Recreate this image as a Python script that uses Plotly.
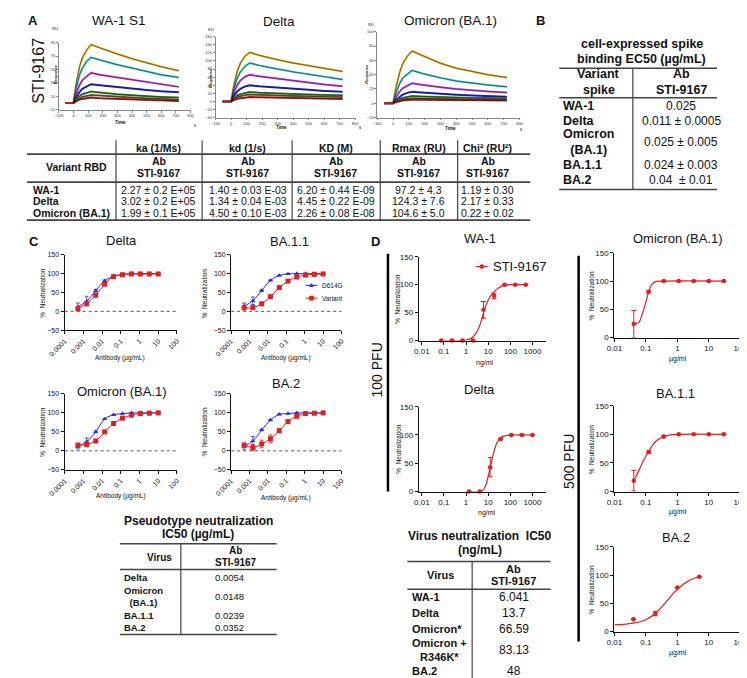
import plotly.graph_objects as go

# ======================= DATA =======================
# --- Panel A: SPR sensorgrams (Response, RU vs Time, s) ---
SENSOR_T = [-55, 0, 10, 20, 40, 60, 90, 120, 180, 240, 300, 400, 500, 600, 720]
SENSOR_COLORS = ["#e8b01c", "#38c9cf", "#d83fd8", "#2424e0", "#2f8d33", "#707040", "#c01c1c"]
WA1_S1_RU = [
    [0, 0, 18, 32, 53, 67, 79, 87, 82, 77, 73, 66, 60, 54, 48],
    [0, 0, 13, 24, 41, 52, 62, 68, 64, 60, 57, 52, 47, 42, 38],
    [0, 0, 8, 15, 26, 34, 40, 45, 42, 40, 37, 34, 31, 28, 24],
    [0, 0, 5, 9, 16, 21, 25, 28, 26.5, 25, 23.5, 21.5, 19.5, 17.5, 16],
    [0, 0, 3, 6, 10, 13, 15, 17, 15.5, 14, 13, 11.5, 10, 9, 8],
    [0, 0, 2, 4, 7, 9, 11, 12, 11, 10, 9, 8, 7, 6, 5],
    [0, 0, 1.5, 3, 5, 6, 7, 8, 7, 6.5, 6, 5, 4.5, 4, 3],
]
DELTA_RU = [
    [0, 0, 25, 45, 75, 95, 112, 121, 114, 108, 103, 95, 88, 81, 74],
    [0, 0, 19, 35, 58, 73, 87, 95, 89, 84, 80, 73, 67, 61, 54],
    [0, 0, 13, 25, 41, 52, 61, 66, 62, 59, 56, 51, 47, 42, 37.5],
    [0, 0, 8, 15, 25, 31, 37, 40, 37.5, 35.5, 33.5, 31, 28.5, 26, 24],
    [0, 0, 5, 9, 15, 18, 21, 23, 21.5, 20.5, 19.5, 18, 17, 16, 15],
    [0, 0, 3.5, 7, 11, 13.5, 15.5, 17, 16, 15, 14.5, 13.5, 12.5, 11.5, 10.6],
    [0, 0, 2, 4, 6.5, 8, 9.5, 10.6, 10, 9.5, 9, 8, 7.5, 7, 6],
]
OMICRON_RU = [
    [0, 0, 14, 24, 42, 55, 66, 73, 67, 61, 56, 49, 44, 40, 36],
    [0, 0, 9, 15, 27, 35, 41, 46, 42, 38.5, 35.5, 31, 28, 25.5, 23],
    [0, 0, 5, 9, 16, 21, 25, 28, 26, 24, 22.5, 20, 18, 16.5, 15],
    [0, 0, 3, 5, 9, 12, 14.5, 16, 15, 14, 13, 12, 11, 10, 9],
    [0, 0, 2, 3.5, 6, 7.5, 9, 10, 9.5, 9, 8.5, 8, 7.5, 7.2, 7],
    [0, 0, 1.3, 2.5, 4, 5.3, 6.3, 7, 6.7, 6.4, 6, 5.7, 5.4, 5.2, 5],
    [0, 0, 1, 1.7, 3, 3.8, 4.5, 5, 4.8, 4.6, 4.4, 4.2, 4, 3.8, 3.7],
]

# --- Panel A table ---
TA_HEADERS = ["ka (1/Ms)", "kd (1/s)", "KD (M)", "Rmax (RU)", "Chi² (RU²)"]
TA_VARIANTS = ["WA-1", "Delta", "Omicron (BA.1)"]
TA_KA = ["2.27 ± 0.2 E+05", "3.02 ± 0.2 E+05", "1.99 ± 0.1 E+05"]
TA_KD = ["1.40 ± 0.03 E-03", "1.34 ± 0.04 E-03", "4.50 ± 0.10 E-03"]
TA_KDM = ["6.20 ± 0.44 E-09", "4.45 ± 0.22 E-09", "2.26 ± 0.08 E-08"]
TA_RMAX = ["97.2 ± 4.3", "124.3 ± 7.6", "104.6 ± 5.0"]
TA_CHI2 = ["1.19 ± 0.30", "2.17 ± 0.33", "0.22 ± 0.02"]

# --- Panel B table ---
TB_SPIKES = ["WA-1", "Delta", "Omicron<br>(BA.1)", "BA.1.1", "BA.2"]
TB_EC50 = ["0.025", "0.011 ± 0.0005", "0.025 ± 0.005", "0.024 ± 0.003", "0.04  ± 0.01"]

# --- Panel C: pseudotype neutralization ---
C_CONC = [0.000508, 0.00152, 0.00457, 0.0137, 0.0412, 0.123, 0.370, 1.11, 3.33, 10.0]
C_DELTA_D614G = [12, 27, 55, 81, 93, 98, 100, 100, 100, 100]
C_DELTA_D614G_ERR = [10, 13, 3, 2, 1, 0, 0, 0, 0, 0]
C_DELTA_VAR = [7, 21, 43, 72, 92, 97, 99, 99, 99, 99]
C_DELTA_VAR_ERR = [4, 3, 5, 4, 2, 1, 0, 0, 0, 0]
C_BA11_D614G = [14, 28, 55, 82, 95, 99, 100, 100, 100, 100]
C_BA11_D614G_ERR = [8, 10, 2, 1, 1, 0, 0, 0, 0, 0]
C_BA11_VAR = [9, 10, 20, 39, 63, 80, 91, 96, 98, 99]
C_BA11_VAR_ERR = [4, 3, 2, 2, 3, 3, 2, 1, 1, 1]
C_OMI_D614G = [11, 24, 50, 84, 95, 98, 100, 100, 100, 100]
C_OMI_D614G_ERR = [6, 10, 2, 1, 1, 0, 0, 0, 0, 0]
C_OMI_VAR = [15, 17, 26, 50, 72, 86, 94, 98, 99, 100]
C_OMI_VAR_ERR = [5, 6, 3, 3, 2, 2, 1, 1, 1, 1]
C_BA2_D614G = [12, 26, 55, 81, 96, 98, 100, 100, 100, 100]
C_BA2_D614G_ERR = [8, 12, 2, 1, 1, 0, 0, 0, 0, 0]
C_BA2_VAR = [15, 9, 18, 32, 53, 77, 91, 98, 99, 100]
C_BA2_VAR_ERR = [5, 8, 10, 10, 4, 5, 3, 2, 1, 1]
C_TICKS = [0.0001, 0.001, 0.01, 0.1, 1, 10, 100]
C_TICKTEXT = ["0.0001", "0.001", "0.01", "0.1", "1", "10", "100"]
C_SERIES = ["D614G", "Variant"]

# --- Pseudotype table ---
TC_VIRUS = ["Delta", "Omicron<br>(BA.1)", "BA.1.1", "BA.2"]
TC_IC50 = ["0.0054", "0.0148", "0.0239", "0.0352"]

# --- Panel D: live virus neutralization ---
D_WA1_CONC = [0.0762, 0.229, 0.686, 2.06, 6.17, 18.5, 55.6, 166.7, 500]
D_WA1_NEUT = [0, 0, 0, 0, 55, 80, 100, 100, 100]
D_WA1_ERR = [0, 0, 0, 0, 15, 5, 0, 0, 0]
D_WA1_FIT_X = [0.0762, 0.7, 1, 1.5, 2, 3, 4, 5, 6, 8, 10, 14, 18.5, 25, 40, 60, 100, 500]
D_WA1_FIT_Y = [0, 0, 1, 3, 6, 15, 25, 37, 48, 63, 72, 82, 87, 92, 97, 99, 100, 100]
D_DELTA_CONC = [1.37, 4.12, 12.3, 37.0, 111, 333, 1000]
D_DELTA_NEUT = [0, 0, 43, 93, 100, 100, 100]
D_DELTA_ERR = [0, 0, 17, 1, 0, 0, 0]
D_DELTA_FIT_X = [1.37, 4, 6, 8, 10, 12, 14, 17, 20, 25, 37, 50, 111, 1000]
D_DELTA_FIT_Y = [0, 0, 3, 12, 27, 40, 52, 66, 76, 86, 95, 98, 100, 100]
D_OMI_CONC = [0.0412, 0.123, 0.370, 1.11, 3.33, 10, 30]
D_OMI_NEUT = [24, 81, 100, 100, 100, 100, 100]
D_OMI_ERR = [24, 2, 0, 0, 0, 0, 0]
D_OMI_FIT_X = [0.0412, 0.05, 0.06, 0.067, 0.075, 0.085, 0.1, 0.123, 0.15, 0.2, 0.37, 30]
D_OMI_FIT_Y = [24, 25, 27, 32, 40, 49, 63, 81, 93, 99, 100, 100]
D_BA11_CONC = [0.0412, 0.123, 0.370, 1.11, 3.33, 10, 30]
D_BA11_NEUT = [19, 69, 96, 100, 100, 100, 100]
D_BA11_ERR = [18, 2, 2, 0, 0, 0, 0]
D_BA11_FIT_X = [0.0412, 0.05, 0.06, 0.08, 0.1, 0.123, 0.15, 0.2, 0.3, 0.37, 0.6, 1, 30]
D_BA11_FIT_Y = [19, 28, 37, 52, 62, 70, 78, 87, 94, 96, 99, 100, 100]
D_BA2_CONC = [0.04, 0.2, 1, 5]
D_BA2_NEUT = [22, 32, 78, 97]
D_BA2_ERR = [0, 4, 0, 0]
D_BA2_FIT_X = [0.01, 0.02, 0.04, 0.07, 0.1, 0.2, 0.3, 0.5, 0.7, 1, 1.5, 2, 3, 5]
D_BA2_FIT_Y = [12, 13, 15, 18, 21, 32, 42, 56, 66, 75, 83, 88, 93, 97]
D_SERIES = "STI-9167"

# --- Virus neutralization table ---
TD_VIRUS = ["WA-1", "Delta", "Omicron*", "Omicron +<br>R346K*", "BA.2"]
TD_IC50 = ["6.041", "13.7", "66.59", "83.13", "48"]

# ======================= FIGURE =======================
W, H = 747, 678
FONT = "Liberation Sans, Arial, sans-serif"
RED = "#e0201e"
BLUE = "#2a2ae8"


def px(x):
    return x / W


def py(y):
    return 1 - y / H


fig = go.Figure()
axes = {}
ann = []
shp = []


def sfx(n):
    return "" if n == 1 else str(n)


def add_axes(n, xd, yd, xa, ya):
    axes["xaxis" + sfx(n)] = dict(domain=[px(xd[0]), px(xd[1])], anchor="y" + sfx(n), **xa)
    axes["yaxis" + sfx(n)] = dict(domain=[py(yd[1]), py(yd[0])], anchor="x" + sfx(n), **ya)


def text(x, y, s, size=11, bold=False, xanchor="center", angle=0, color="#111"):
    ann.append(dict(x=px(x), y=py(y), xref="paper", yref="paper", text=("<b>%s</b>" % s) if bold else s,
                    showarrow=False, xanchor=xanchor, yanchor="middle", textangle=angle,
                    font=dict(family=FONT, size=size, color=color)))


def hline(x0, x1, y, w=1.5, color="#444"):
    shp.append(dict(type="line", xref="paper", yref="paper", x0=px(x0), x1=px(x1), y0=py(y), y1=py(y),
                    line=dict(color=color, width=w)))


def vline(x, y0, y1, w=1.5, color="#444"):
    shp.append(dict(type="line", xref="paper", yref="paper", x0=px(x), x1=px(x), y0=py(y0), y1=py(y1),
                    line=dict(color=color, width=w)))


def legend_sample(x0, x1, y, color, symbol, label, size):
    # line segment + marker glyph + label (manual legend key)
    hline(x0, x1, y, 1.1, color)
    cx = (x0 + x1) / 2
    if symbol == "triangle":
        path = "M %f,%f L %f,%f L %f,%f Z" % (px(cx - 2.3), py(y + 1.8), px(cx + 2.3), py(y + 1.8), px(cx), py(y - 2.4))
        shp.append(dict(type="path", xref="paper", yref="paper", path=path, fillcolor=color, line=dict(width=0)))
    elif symbol == "square":
        shp.append(dict(type="rect", xref="paper", yref="paper", x0=px(cx - 2.4), x1=px(cx + 2.4),
                        y0=py(y + 2.4), y1=py(y - 2.4), fillcolor=color, line=dict(width=0)))
    else:
        shp.append(dict(type="circle", xref="paper", yref="paper", x0=px(cx - 2.3), x1=px(cx + 2.3),
                        y0=py(y + 2.3), y1=py(y - 2.3), fillcolor=color, line=dict(width=0)))
    text(x1 + 3, y, label, size, False, "left")


# ---------- Panel A: sensorgrams ----------
def sensor_axes(n, xd, yd, yr, ytv):
    common = dict(tickmode="array", tickfont=dict(family=FONT, size=4, color="#333"), showline=True,
                  linecolor="#888", linewidth=0.7, ticks="outside", ticklen=2, tickwidth=0.5,
                  tickcolor="#888", showgrid=False, zeroline=False)
    xa = dict(range=[-100, 800], tickvals=list(range(-100, 801, 100)), **common)
    ya = dict(range=yr, tickvals=ytv, **common)
    add_axes(n, xd, yd, xa, ya)


sensor_sets = [
    (1, WA1_S1_RU, (35, 171), (31, 99), [-10, 90], list(range(-10, 91, 20))),
    (2, DELTA_RU, (197, 341), (25, 107), [-40, 160], list(range(-40, 161, 20))),
    (3, OMICRON_RU, (364, 511), (20, 107), [-20, 100], list(range(-20, 101, 20))),
]
for n, curves, xd, yd, yr, ytv in sensor_sets:
    sensor_axes(n, xd, yd, yr, ytv)
    for col, vals in zip(SENSOR_COLORS, curves):
        fig.add_trace(go.Scatter(x=SENSOR_T, y=vals, mode="lines", line=dict(color=col, width=2),
                                 xaxis="x" + sfx(n), yaxis="y" + sfx(n), showlegend=False, hoverinfo="skip"))
    for vals in curves:
        fig.add_trace(go.Scatter(x=SENSOR_T[1:], y=vals[1:], mode="lines", line=dict(color="#111", width=0.5),
                                 xaxis="x" + sfx(n), yaxis="y" + sfx(n), showlegend=False, hoverinfo="skip"))

text(8, 9, "A", 13, True, "center")
text(14, 60, "STI-9167", 16, False, "center", -90)
text(97, 9, "WA-1 S1", 13.5)
text(262, 10, "Delta", 13.5)
text(440, 9, "Omicron (BA.1)", 13.5)
for (rx, ry), (rsx, rsy), (tx, ty), (sx, sy) in [
    ((31, 17), (31, 63), (99, 112), (176, 115)),
    ((192, 18), (191, 67), (265, 117), (347, 117)),
    ((358, 13), (352, 63), (440, 118), (513, 119)),
]:
    text(rx, ry, "RU", 4)
    text(rsx, rsy, "<b>Response</b>", 4, False, "center", -90)
    text(tx, ty, "<b>Time</b>", 4.5)
    text(sx, sy, "s", 4.5)

# ---------- Panel A table ----------
TA_COLS = [138, 230, 321, 407, 478]
hline(2, 522, 144, 1.8)
hline(2, 522, 172.5, 1.8)
hline(2, 522, 211, 1.8)
for vx in [94, 183, 276, 367, 447]:
    vline(vx, 130, 211, 1.2)
for cx, h in zip(TA_COLS, TA_HEADERS):
    text(cx, 138, h, 10.5, True)
    text(cx, 151, "Ab", 10.5, True)
    text(cx, 163, "STI-9167", 10.5, True)
text(53, 157, "Variant RBD", 10.5, True)
ROW_Y_A = [180, 191.5, 204]
for ry, v in zip(ROW_Y_A, TA_VARIANTS):
    text(6, ry, v, 10.5, True, "left")
for cx, col in zip(TA_COLS, [TA_KA, TA_KD, TA_KDM, TA_RMAX, TA_CHI2]):
    for ry, v in zip(ROW_Y_A, col):
        text(cx, ry, v, 10.5)

# ---------- Panel B table ----------
text(533, 9, "B", 13, True)
text(637, 32, "cell-expressed spike", 12.5, True)
text(637, 48, "binding EC50 (µg/mL)", 12.5, True)
hline(552, 715, 57, 1.5)
hline(552, 715, 87, 1.5)
hline(552, 715, 180, 1.5)
vline(628, 57, 180, 1.2)
text(593, 63, "Variant", 12.5, True)
text(593, 79, "spike", 12.5, True)
text(678, 63, "Ab", 12.5, True)
text(678, 79, "STI-9167", 12.5, True)
ROW_Y_B = [95, 110, 132, 155, 170]
for ry, lab, val in zip(ROW_Y_B, TB_SPIKES, TB_EC50):
    text(554, ry, lab, 12.5, True, "left")
    text(678, ry, val, 12)

# ---------- Panel C ----------
def c_axes(n, xd, yd):
    common = dict(tickmode="array", tickfont=dict(family=FONT, size=7, color="#111"), showline=True,
                  linecolor="#111", linewidth=1.3, ticks="outside", ticklen=3, tickwidth=1.2,
                  tickcolor="#111", showgrid=False, zeroline=False)
    xa = dict(type="log", range=[-4, 2], tickvals=C_TICKS, ticktext=C_TICKTEXT, tickangle=-45, **common)
    ya = dict(range=[-50, 150], tickvals=[-50, 0, 50, 100, 150], **common)
    add_axes(n, xd, yd, xa, ya)
    shp.append(dict(type="line", xref="x%s domain" % sfx(n), yref="y" + sfx(n), x0=0, x1=1, y0=0, y1=0,
                    line=dict(color="#555", width=1, dash="dot")))


c_sets = [
    (4, (41, 157), (246, 322.5), C_DELTA_D614G, C_DELTA_D614G_ERR, C_DELTA_VAR, C_DELTA_VAR_ERR),
    (5, (213, 327), (246, 322.5), C_BA11_D614G, C_BA11_D614G_ERR, C_BA11_VAR, C_BA11_VAR_ERR),
    (6, (41, 157), (387, 464), C_OMI_D614G, C_OMI_D614G_ERR, C_OMI_VAR, C_OMI_VAR_ERR),
    (7, (213, 327), (387, 464), C_BA2_D614G, C_BA2_D614G_ERR, C_BA2_VAR, C_BA2_VAR_ERR),
]
for n, xd, yd, b, be, r, re_ in c_sets:
    c_axes(n, xd, yd)
    fig.add_trace(go.Scatter(x=C_CONC, y=b, mode="lines+markers", name=C_SERIES[0],
                             line=dict(color=BLUE, width=1, shape="spline"),
                             marker=dict(symbol="triangle-up", size=4.5, color=BLUE),
                             error_y=dict(type="data", array=be, color=BLUE, thickness=0.8, width=2),
                             xaxis="x" + sfx(n), yaxis="y" + sfx(n), showlegend=False, cliponaxis=False))
    fig.add_trace(go.Scatter(x=C_CONC, y=r, mode="lines+markers", name=C_SERIES[1],
                             line=dict(color=RED, width=1, shape="spline"),
                             marker=dict(symbol="square", size=5, color=RED),
                             error_y=dict(type="data", array=re_, color=RED, thickness=0.8, width=2),
                             xaxis="x" + sfx(n), yaxis="y" + sfx(n), showlegend=False, cliponaxis=False))

legend_sample(290, 302, 277, BLUE, "triangle", C_SERIES[0], 6.5)
legend_sample(290, 302, 290, RED, "square", C_SERIES[1], 6.5)

text(9, 233, "C", 13, True)
text(100, 232, "Delta", 13)
text(273, 233, "BA.1.1", 13)
text(100, 385, "Omicron (BA.1)", 13)
text(270, 377, "BA.2", 13)
for x, y in [(18, 284), (185, 285), (18, 425), (185, 425)]:
    text(x, y, "%  Neutralization", 6.5, False, "center", -90)
for x, y in [(98, 351), (270, 351), (99, 491), (270, 493)]:
    text(x, y, "Antibody (µg/mL)", 6.5)

# Pseudotype table
text(179, 516, "Pseudotype neutralization", 12, True)
text(179, 529, "IC50 (µg/mL)", 12, True)
hline(98, 260, 539, 1.5)
hline(98, 260, 565, 1.5)
hline(98, 260, 631, 1.5)
vline(161, 539, 631, 1.2)
text(139, 553, "Virus", 10, True)
text(218, 546, "Ab", 10, True)
text(218, 558, "STI-9167", 10, True)
for ry, lab, val in zip([573, 592, 612, 624], TC_VIRUS, TC_IC50):
    text(100, ry, lab, 9.5, True, "left")
    text(211, ry, val, 9.5)

# ---------- Panel D ----------
def d_axes(n, xd, yd, xr, tv):
    common = dict(tickmode="array", tickfont=dict(family=FONT, size=8, color="#111"), showline=True,
                  linecolor="#111", linewidth=1.2, ticks="outside", ticklen=3, tickwidth=1.1,
                  tickcolor="#111", showgrid=False, zeroline=False)
    xa = dict(type="log", range=xr, tickvals=tv, ticktext=[("%g" % v) for v in tv], **common)
    ya = dict(range=[0, 150], tickvals=[0, 50, 100, 150], **common)
    add_axes(n, xd, yd, xa, ya)


NG_T = [0.01, 0.1, 1, 10, 100, 1000]
UG_T = [0.01, 0.1, 1, 10, 100]
d_sets = [
    (8, (407, 538), (248, 333), [-2.13, 3.6], NG_T, D_WA1_CONC, D_WA1_NEUT, D_WA1_ERR, D_WA1_FIT_X, D_WA1_FIT_Y),
    (9, (407, 538), (400, 486), [-2.13, 3.6], NG_T, D_DELTA_CONC, D_DELTA_NEUT, D_DELTA_ERR, D_DELTA_FIT_X, D_DELTA_FIT_Y),
    (10, (609, 739), (244, 330), [-2, 2], UG_T, D_OMI_CONC, D_OMI_NEUT, D_OMI_ERR, D_OMI_FIT_X, D_OMI_FIT_Y),
    (11, (609, 739), (399, 486), [-2, 2], UG_T, D_BA11_CONC, D_BA11_NEUT, D_BA11_ERR, D_BA11_FIT_X, D_BA11_FIT_Y),
    (12, (609, 739), (542, 628), [-2, 2], UG_T, D_BA2_CONC, D_BA2_NEUT, D_BA2_ERR, D_BA2_FIT_X, D_BA2_FIT_Y),
]
for n, xd, yd, xr, tv, cx, cy, ce, fx, fy in d_sets:
    d_axes(n, xd, yd, xr, tv)
    fig.add_trace(go.Scatter(x=fx, y=fy, mode="lines", line=dict(color=RED, width=1.2, shape="spline"),
                             xaxis="x" + sfx(n), yaxis="y" + sfx(n), showlegend=False, cliponaxis=False))
    fig.add_trace(go.Scatter(x=cx, y=cy, mode="markers", name=D_SERIES,
                             marker=dict(symbol="circle", size=4.5, color=RED),
                             error_y=dict(type="data", array=ce, color=RED, thickness=1, width=2.5),
                             xaxis="x" + sfx(n), yaxis="y" + sfx(n), showlegend=False, cliponaxis=False))

legend_sample(466, 478, 258, RED, "circle", D_SERIES, 13)

text(362, 233, "D", 13, True)
text(470, 230, "WA-1", 13)
text(470, 383, "Delta", 13)
text(675, 230, "Omicron (BA.1)", 13)
text(672, 387, "BA.1.1", 13)
text(673, 533, "BA.2", 13)
for x, y in [(385, 291), (385, 443), (585, 287), (585, 443), (585, 585)]:
    text(x, y, "%  Neutralization", 6.5, False, "center", -90)
text(475, 356, "ng/ml", 7)
text(477, 508, "ng/ml", 7)
text(675, 352, "µg/ml", 7)
text(675, 507, "µg/ml", 7)
text(675, 650, "µg/ml", 7)

vline(375, 245, 486, 2.5, "#000")
text(364, 363, "100 PFU", 14, False, "center", -90)
vline(572, 247, 638, 2.5, "#000")
text(562, 455, "500 PFU", 14, False, "center", -90)

# Virus neutralization table
text(470, 531, "Virus neutralization  IC50", 12, True)
text(470, 545, "(ng/mL)", 12, True)
hline(395, 543, 557, 1.5)
hline(395, 543, 585, 1.5)
vline(462, 557, 678, 1.2)
text(429, 571, "Virus", 11, True)
text(505, 564, "Ab", 11, True)
text(505, 577, "STI-9167", 11, True)
for ry, lab, val in zip([593, 609, 625, 647, 668], TD_VIRUS, TD_IC50):
    text(398, ry, lab, 11, True, "left")
    text(505, ry, val, 12)

fig.update_layout(
    width=W, height=H, margin=dict(l=0, r=0, t=0, b=0),
    paper_bgcolor="white", plot_bgcolor="white",
    font=dict(family=FONT, color="#111"),
    annotations=ann, shapes=shp, showlegend=False,
    **axes,
)

fig.write_html("out.html")
